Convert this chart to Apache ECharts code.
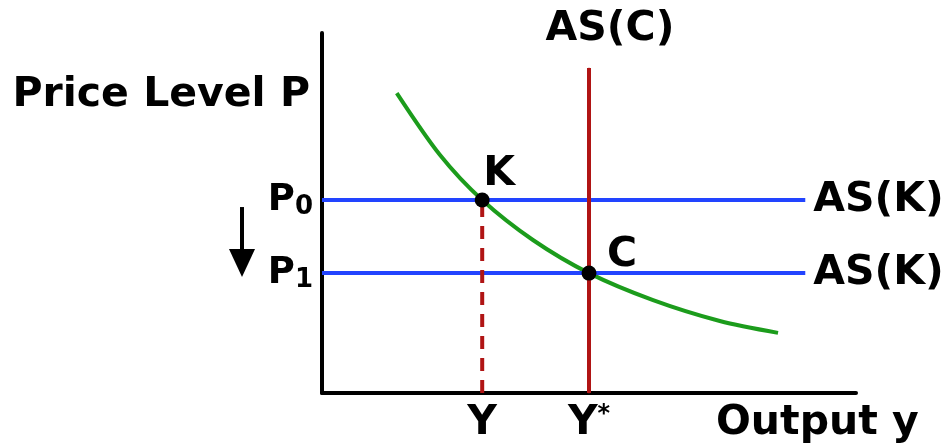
<!DOCTYPE html>
<html>
<head>
<meta charset="utf-8">
<script src="https://cdn.jsdelivr.net/npm/echarts@6/dist/echarts.min.js"></script>
<style>
  html, body { margin: 0; padding: 0; background: #fff; }
  #main { width: 952px; height: 445px; }
</style>
</head>
<body>
<div id="main"></div>
<script>
// aggregate demand curve (arbitrary units, axes run 0..10)
var curveX = [1.40, 2.21, 3.00, 3.95, 5.00, 6.20, 7.45, 8.54];
var curveY = [8.33, 6.61, 5.36, 4.25, 3.33, 2.58, 2.00, 1.67];

var P0 = 5.36, P1 = 3.33;     // price levels
var Y = 3.00, Ystar = 5.00;   // output levels
var asKEnd = 9.05;            // where the AS(K) lines stop
var asCTop = 9.03;            // top of the AS(C) line

var FONT = 'DejaVu Sans';
var BLUE = '#2244ff', RED = '#b01414', GREEN = '#1c9c1c';

var chart = echarts.init(document.getElementById('main'));

var bigText = { fontFamily: FONT, fontWeight: 'bold', fontSize: 41, lineHeight: 40, color: '#000' };

var option = {
  backgroundColor: '#fff',
  animation: false,
  grid: { left: 322, right: 96, top: 33, bottom: 52, outerBoundsMode: 'none' },
  xAxis: {
    type: 'value', min: 0, max: 10,
    name: 'Output y', nameLocation: 'end', nameGap: -140,
    nameTextStyle: Object.assign({}, bigText, { align: 'left', verticalAlign: 'top', padding: [10, 0, 0, 0] }),
    axisLine: { show: true, lineStyle: { color: '#000', width: 4 } },
    axisTick: { show: false },
    splitLine: { show: false },
    axisLabel: {
      customValues: [Y, Ystar],
      margin: 10,
      formatter: function (v) { return v === Y ? '{a|Y}' : '{a|Y}{s|*}'; },
      rich: {
        a: bigText,
        s: { fontFamily: FONT, fontWeight: 'bold', fontSize: 24, lineHeight: 24, verticalAlign: 'top', color: '#000' }
      }
    }
  },
  yAxis: {
    type: 'value', min: 0, max: 10,
    name: 'Price Level P', nameLocation: 'end', nameGap: -62,
    nameTextStyle: Object.assign({}, bigText, { align: 'right', verticalAlign: 'middle', padding: [0, 12, 0, 0] }),
    axisLine: { show: true, lineStyle: { color: '#000', width: 4 } },
    axisTick: { show: false },
    splitLine: { show: false },
    axisLabel: {
      customValues: [P1, P0],
      margin: 9,
      formatter: function (v) { return v === P0 ? '{p|P}{s|0}' : '{p|P}{s|1}'; },
      rich: {
        p: { fontFamily: FONT, fontWeight: 'bold', fontSize: 37, lineHeight: 40, color: '#000' },
        s: { fontFamily: FONT, fontWeight: 'bold', fontSize: 26, lineHeight: 26, verticalAlign: 'bottom', color: '#000' }
      }
    }
  },
  series: [
    {
      name: 'AD', type: 'line', smooth: 0.3, symbol: 'none',
      lineStyle: { color: GREEN, width: 4 },
      data: curveX.map(function (x, i) { return [x, curveY[i]]; })
    },
    {
      name: 'AS(K) P0', type: 'line', symbol: 'none',
      lineStyle: { color: BLUE, width: 4 },
      endLabel: Object.assign({ show: true, formatter: 'AS(K)', distance: 8 }, bigText),
      data: [[0, P0], [asKEnd, P0]]
    },
    {
      name: 'AS(K) P1', type: 'line', symbol: 'none',
      lineStyle: { color: BLUE, width: 4 },
      endLabel: Object.assign({ show: true, formatter: 'AS(K)', distance: 8 }, bigText),
      data: [[0, P1], [asKEnd, P1]]
    },
    {
      name: 'AS(C)', type: 'line', symbol: 'circle', symbolSize: 1, showSymbol: true,
      lineStyle: { color: RED, width: 4 },
      itemStyle: { color: RED },
      label: { show: false },
      data: [
        [Ystar, 0],
        { value: [Ystar, asCTop], label: Object.assign({ show: true, position: 'top', distance: 18, offset: [21, 0], formatter: 'AS(C)' }, bigText) }
      ]
    },
    {
      name: 'Y drop', type: 'line', symbol: 'none',
      lineStyle: { color: RED, width: 4, type: [13, 9] },
      data: [[Y, 0], [Y, P0]]
    },
    {
      name: 'points', type: 'scatter', symbolSize: 15, z: 5,
      itemStyle: { color: '#000', opacity: 1 },
      data: [
        { value: [Y, P0], label: Object.assign({ show: true, position: 'inside', offset: [17, -26], formatter: 'K' }, bigText) },
        { value: [Ystar, P1], label: Object.assign({ show: true, position: 'inside', offset: [33, -18], formatter: 'C' }, bigText) }
      ]
    }
  ]
};

chart.setOption(option);

// downward arrow beside the price labels, from P0 level to P1 level
var fromPx = chart.convertToPixel({ gridIndex: 0 }, [0, P0]);
var toPx = chart.convertToPixel({ gridIndex: 0 }, [0, P1]);
var ax = fromPx[0] - 80;
var ay0 = fromPx[1] + 7, ay1 = toPx[1] + 4;
chart.setOption({
  graphic: [
    { type: 'line', shape: { x1: ax, y1: ay0, x2: ax, y2: ay1 - 24 }, style: { stroke: '#000', lineWidth: 4 } },
    { type: 'polygon', shape: { points: [[ax - 13, ay1 - 28], [ax + 13, ay1 - 28], [ax, ay1]] }, style: { fill: '#000' } }
  ]
});
</script>
</body>
</html>
